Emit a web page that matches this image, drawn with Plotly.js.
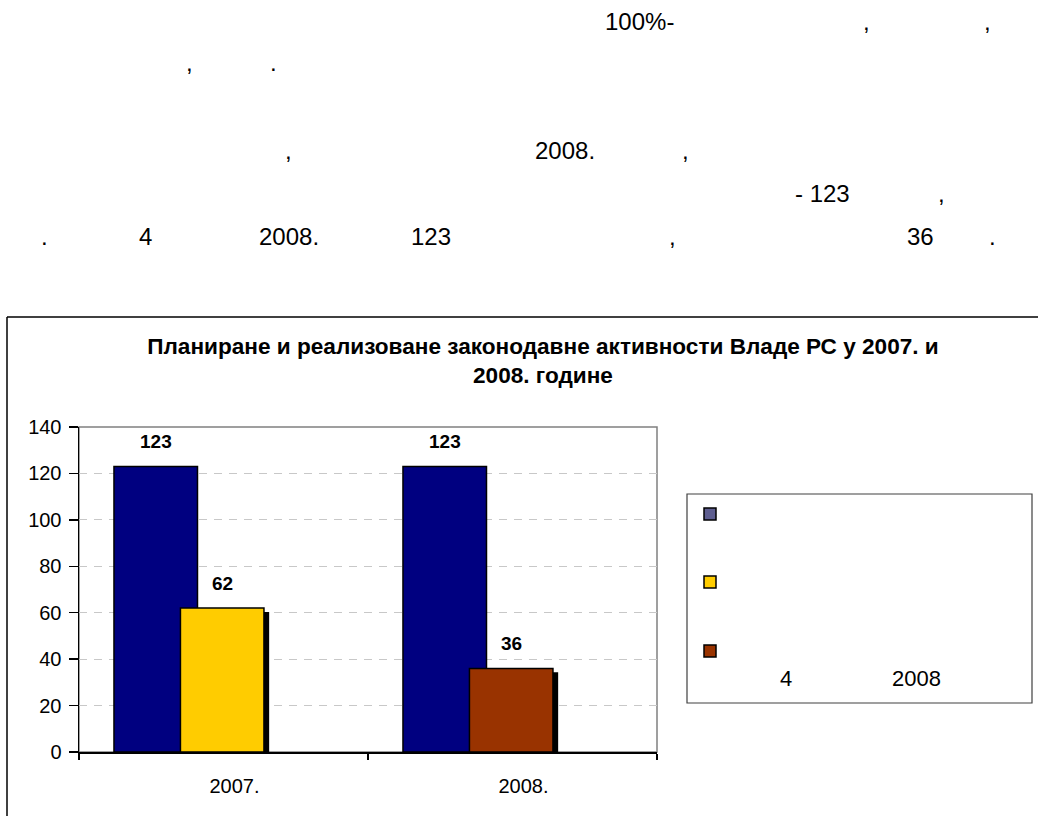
<!DOCTYPE html>
<html>
<head>
<meta charset="utf-8">
<script src="https://cdn.plot.ly/plotly-3.0.1.min.js"></script>
<style>
  html, body { margin: 0; padding: 0; background: #ffffff; }
  #chart { width: 1038px; height: 816px; }
</style>
</head>
<body>
<div id="chart"></div>
<script>
// ---------- data ----------
const categories = ['2007.', '2008.'];
const planned = [123, 123];
const realized2007 = [62, null];
const realized2008 = [null, 36];
const yTickValues = [0, 20, 40, 60, 80, 100, 120, 140];
const chartTitle = 'Планиране и реализоване законодавне активности Владе РС у 2007. и<br>2008. године';
const legendExtraLabels = ['4', '2008'];
const seriesColors = ['#000080', '#FFCC00', '#993300'];
const legendSwatchColors = ['#5e5e90', '#FFCC00', '#993300'];

// ---------- page geometry helpers ----------
const W = 1038, H = 816;
const px = x => x / W;
const py = y => 1 - y / H;
const FONT = 'Liberation Sans, Arial, sans-serif';

// bar geometry (in category units)
const blueOffset = -0.379, barWidth = 0.289;
const secondOffset = -0.149;
const shadowDx = 0.018, shadowBase = -1.7;

const outline = { color: '#000000', width: 1.5 };

const traces = [
  { type: 'bar', x: categories, y: planned, offset: blueOffset, width: barWidth,
    marker: { color: seriesColors[0], line: outline }, showlegend: false, hoverinfo: 'y' },
  { type: 'bar', x: categories, y: realized2007, base: shadowBase, offset: secondOffset + shadowDx, width: barWidth,
    marker: { color: '#000000', line: { width: 0 } }, showlegend: false, hoverinfo: 'skip' },
  { type: 'bar', x: categories, y: realized2008, base: shadowBase, offset: secondOffset + shadowDx, width: barWidth,
    marker: { color: '#000000', line: { width: 0 } }, showlegend: false, hoverinfo: 'skip' },
  { type: 'bar', x: categories, y: realized2007, offset: secondOffset, width: barWidth,
    marker: { color: seriesColors[1], line: outline }, showlegend: false, hoverinfo: 'y' },
  { type: 'bar', x: categories, y: realized2008, offset: secondOffset, width: barWidth,
    marker: { color: seriesColors[2], line: outline }, showlegend: false, hoverinfo: 'y' }
];

// ---------- annotations ----------
const annotations = [];

// data labels
function addLabels(values, offset) {
  values.forEach((v, i) => {
    if (v === null) return;
    annotations.push({
      xref: 'x', yref: 'y', x: i + offset + barWidth / 2, y: v,
      text: String(v), showarrow: false, xanchor: 'center', yanchor: 'middle', yshift: 25,
      font: { family: FONT, size: 19, color: '#000000', weight: 700 }
    });
  });
}
addLabels(planned, blueOffset);
addLabels(realized2007, secondOffset);
addLabels(realized2008, secondOffset);

// paragraph fragments above the chart (only the glyphs visible in the source)
const paragraph = [
  ['100%-', 604, 21], [',', 862, 21], [',', 983, 21],
  [',', 185, 63], ['.', 269, 63],
  [',', 284, 150], ['2008.', 534, 150], [',', 681, 150],
  ['- 123', 794, 193], [',', 937, 193],
  ['.', 40, 236], ['4', 138, 236], ['2008.', 258, 236], ['123', 410, 236],
  [',', 668, 236], ['36', 906, 236], ['.', 988, 236]
];
paragraph.forEach(p => {
  annotations.push({
    xref: 'paper', yref: 'paper', x: px(p[1]), y: py(p[2]),
    text: p[0], showarrow: false, xanchor: 'left', yanchor: 'middle', borderpad: 0,
    font: { family: FONT, size: 24, color: '#000000' }
  });
});

// legend extra text
annotations.push({ xref: 'paper', yref: 'paper', x: px(786), y: py(678), text: legendExtraLabels[0],
  showarrow: false, xanchor: 'center', yanchor: 'middle', font: { family: FONT, size: 22, color: '#000000' } });
annotations.push({ xref: 'paper', yref: 'paper', x: px(916), y: py(678), text: legendExtraLabels[1],
  showarrow: false, xanchor: 'center', yanchor: 'middle', font: { family: FONT, size: 22, color: '#000000' } });

// ---------- shapes ----------
const shapes = [
  // chart outer frame (left + top)
  { type: 'line', xref: 'paper', yref: 'paper', x0: px(7), y0: py(816), x1: px(7), y1: py(317),
    line: { color: '#000000', width: 1.5 } },
  { type: 'line', xref: 'paper', yref: 'paper', x0: px(7), y0: py(317), x1: px(1038), y1: py(317),
    line: { color: '#000000', width: 1.5 } },
  // plot-area border (gray)
  { type: 'rect', xref: 'x domain', yref: 'y domain', x0: 0, y0: 0, x1: 1, y1: 1, layer: 'below',
    line: { color: '#808080', width: 1.5 } },
  // legend box
  { type: 'rect', xref: 'paper', yref: 'paper', x0: px(687), y0: py(703), x1: px(1032), y1: py(494),
    line: { color: '#404040', width: 1.2 }, fillcolor: 'rgba(0,0,0,0)' }
];
const swatchY = [514, 582, 651];
legendSwatchColors.forEach((c, i) => {
  shapes.push({ type: 'rect', xref: 'paper', yref: 'paper',
    x0: px(704), x1: px(716), y0: py(swatchY[i] + 6), y1: py(swatchY[i] - 6),
    fillcolor: c, line: { color: '#000000', width: 1.5 } });
});

// ---------- layout ----------
const layout = {
  width: W, height: H, autosize: false,
  margin: { l: 0, r: 0, t: 0, b: 0, pad: 0 },
  paper_bgcolor: '#ffffff', plot_bgcolor: '#ffffff',
  barmode: 'overlay',
  showlegend: false,
  title: { text: chartTitle, x: px(543), y: py(354), xanchor: 'center', yanchor: 'middle',
    xref: 'paper', yref: 'paper',
    font: { family: FONT, size: 22.6, color: '#000000', weight: 700 } },
  xaxis: {
    domain: [px(79), px(657)], type: 'category', range: [-0.5, 1.5],
    tickson: 'boundaries', ticks: 'outside', ticklen: 6, tickwidth: 1.5, tickcolor: '#000000',
    showline: true, linecolor: '#000000', linewidth: 1.5, showgrid: false, zeroline: false,
    ticklabelshift: 11, ticklabelstandoff: 15,
    tickfont: { family: FONT, size: 20, color: '#000000' }, fixedrange: true
  },
  yaxis: {
    domain: [py(752), py(427)], range: [0, 140], tickvals: yTickValues,
    ticks: 'outside', ticklen: 9, tickwidth: 1.5, tickcolor: '#000000',
    showline: true, linecolor: '#000000', linewidth: 1.5,
    showgrid: true, gridcolor: '#c8c8c8', gridwidth: 1.2, griddash: '8px,7px', zeroline: false,
    ticklabelstandoff: 3,
    tickfont: { family: FONT, size: 20, color: '#000000' }, fixedrange: true
  },
  annotations: annotations,
  shapes: shapes
};

Plotly.newPlot('chart', traces, layout, { staticPlot: true, displayModeBar: false });
</script>
</body>
</html>
